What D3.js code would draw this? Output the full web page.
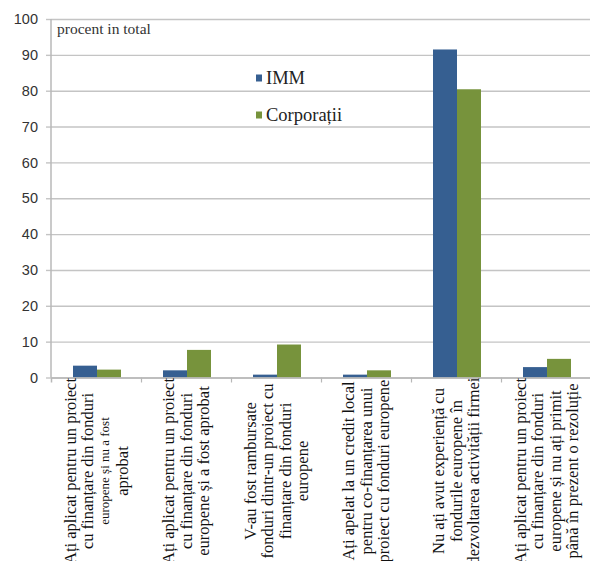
<!DOCTYPE html>
<html>
<head>
<meta charset="utf-8">
<script src="https://cdn.jsdelivr.net/npm/d3@7"></script>
<style>
  html, body { margin: 0; padding: 0; background: #fff; }
  svg { display: block; }
</style>
</head>
<body>
<script>
// Categories: each label is split into its wrapped lines
const categories = [
  ["Ați aplicat pentru un proiect", "cu finanțare din fonduri", "europene și nu a fost", "aprobat"],
  ["Ați aplicat pentru un proiect", "cu finanțare din fonduri", "europene și a fost aprobat"],
  ["V-au fost rambursate", "fonduri dintr-un proiect cu", "finanțare din fonduri", "europene"],
  ["Ați apelat la un credit local", "pentru co-finanțarea unui", "proiect cu fonduri europene"],
  ["Nu ați avut experiență cu", "fondurile europene în", "dezvoltarea activității firmei"],
  ["Ați aplicat pentru un proiect", "cu finanțare  din fonduri", "europene și nu ați primit", "până în prezent  o rezoluție"]
];
const seriesNames = ["IMM", "Corporații"];
const immValues = [3.3, 2.0, 0.8, 0.8, 91.5, 2.9];
const corpValues = [2.2, 7.7, 9.2, 2.0, 80.4, 5.2];
const yTicks = [0, 10, 20, 30, 40, 50, 60, 70, 80, 90, 100];
const unitLabel = "procent in total";

const colors = { "IMM": "#365f91", "Corporații": "#77933c" };
const SERIF = '"Liberation Serif"';
const SANS = '"Liberation Sans"';

const W = 590, H = 561;
const plotLeft = 51, plotRight = 591, plotTop = 19, plotBottom = 377.5;

const svg = d3.select("body").append("svg").attr("width", W).attr("height", H);

const x0 = d3.scaleBand().domain(d3.range(categories.length)).range([plotLeft, plotRight]).padding(0);
const x1 = d3.scaleBand().domain(seriesNames).range([22, 70]).padding(0);
const y = d3.scaleLinear().domain([0, 100]).range([plotBottom, plotTop]);

// Horizontal gridlines with short ticks on the left
const grid = svg.append("g").attr("transform", `translate(${plotLeft},0)`)
  .call(d3.axisLeft(y).tickValues(yTicks).tickSize(-(plotRight - plotLeft)).tickFormat(""));
grid.select(".domain").remove();
grid.selectAll(".tick line").attr("stroke", "#c4c4c4").attr("stroke-width", 1.4);
grid.selectAll(".tick").append("line")
  .attr("x1", -5).attr("x2", 0).attr("stroke", "#c4c4c4").attr("stroke-width", 1.4);

// Y tick labels
const yAx = svg.append("g").attr("transform", `translate(${plotLeft},0)`)
  .call(d3.axisLeft(y).tickValues(yTicks).tickSize(0).tickPadding(13));
yAx.select(".domain").remove();
yAx.attr("font-family", null).attr("font-size", null);
yAx.selectAll("text")
  .style("font-family", SANS).style("font-size", "14.5px").attr("fill", "#333");

// Vertical axis line
svg.append("line").attr("x1", plotLeft).attr("x2", plotLeft).attr("y1", plotTop).attr("y2", plotBottom)
  .attr("stroke", "#b8b8b8").attr("stroke-width", 1.5);

// Bars
const rows = categories.map((c, i) => ({ i, vals: [immValues[i], corpValues[i]] }));
const groups = svg.append("g").selectAll("g").data(rows).join("g")
  .attr("transform", d => `translate(${x0(d.i)},0)`);
groups.selectAll("rect").data(d => seriesNames.map((s, k) => ({ s, v: d.vals[k] }))).join("rect")
  .attr("x", d => x1(d.s))
  .attr("width", x1.bandwidth())
  .attr("y", d => y(d.v))
  .attr("height", d => y(0) - y(d.v))
  .attr("fill", d => colors[d.s]);

// Category axis
const xAx = svg.append("g").attr("transform", `translate(0,${plotBottom})`)
  .call(d3.axisBottom(d3.scaleLinear().domain([0, categories.length]).range([plotLeft, plotRight]))
    .tickValues(d3.range(1, categories.length)).tickSize(5).tickFormat(""));
xAx.select(".domain").attr("stroke", "#b8b8b8").attr("stroke-width", 1.5);
xAx.selectAll(".tick line").attr("stroke", "#b8b8b8").attr("stroke-width", 1.2);

// Rotated category labels
const labelCenterY = 471;
const lineGap = 17.5;
const cat = svg.append("g").selectAll("g").data(categories).join("g")
  .attr("transform", (d, i) => `translate(${x0(i) + x0.bandwidth() / 2},${labelCenterY}) rotate(-90)`);
cat.selectAll("text").data(d => d.map((t, k) => ({ t, k, n: d.length }))).join("text")
  .attr("x", 0)
  .attr("y", d => (d.k - (d.n - 1) / 2) * lineGap)
  .attr("dy", "0.35em")
  .attr("text-anchor", "middle")
  .style("font-family", SERIF)
  .style("font-size", d => (d.t === "europene și nu a fost") ? "13px" : "16.5px")
  .attr("fill", "#111")
  .text(d => d.t);

// Unit label
svg.append("text").attr("x", 57).attr("y", 34)
  .style("font-family", SERIF).style("font-size", "15.5px")
  .attr("fill", "#333").text(unitLabel);

// Legend
const legend = svg.append("g").selectAll("g").data(seriesNames).join("g")
  .attr("transform", (d, i) => `translate(256,${78 + i * 37})`);
legend.append("rect").attr("x", 0).attr("y", -3.5).attr("width", 6).attr("height", 7)
  .attr("fill", d => colors[d]);
legend.append("text").attr("x", 10).attr("y", 0).attr("dy", "0.35em")
  .style("font-family", SERIF).style("font-size", "18.5px")
  .attr("fill", "#222").text(d => d);
</script>
</body>
</html>
